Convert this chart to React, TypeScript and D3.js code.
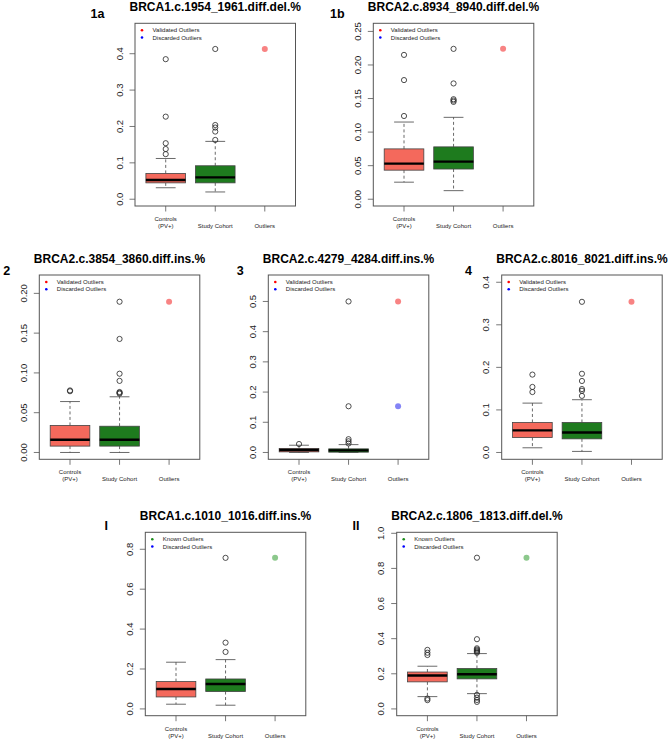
import React from 'react';
import * as d3 from 'd3';

// ---- data ----
const panelIds = ['1a', '1b', '2', '3', '4', 'I', 'II'];
const panelTitles = [
  'BRCA1.c.1954_1961.diff.del.%',
  'BRCA2.c.8934_8940.diff.del.%',
  'BRCA2.c.3854_3860.diff.ins.%',
  'BRCA2.c.4279_4284.diff.ins.%',
  'BRCA2.c.8016_8021.diff.ins.%',
  'BRCA1.c.1010_1016.diff.ins.%',
  'BRCA2.c.1806_1813.diff.del.%',
];
const categories = ['Controls\n(PV+)', 'Study Cohort', 'Outliers'];
const legendFirst = [
  'Validated Outliers', 'Validated Outliers', 'Validated Outliers', 'Validated Outliers',
  'Validated Outliers', 'Known Outliers', 'Known Outliers',
];
const legendSecond = 'Discarded Outliers';

// upper y limit (lower is 0), before R's 4% extension
const yMax = [0.465, 0.252, 0.2145, 0.565, 0.401, 0.851, 0.967];
const yTicks = [
  [0, 0.1, 0.2, 0.3, 0.4],
  [0, 0.05, 0.1, 0.15, 0.2, 0.25],
  [0, 0.05, 0.1, 0.15, 0.2],
  [0, 0.1, 0.2, 0.3, 0.4, 0.5],
  [0, 0.1, 0.2, 0.3, 0.4],
  [0, 0.2, 0.4, 0.6, 0.8],
  [0, 0.2, 0.4, 0.6, 0.8, 1.0],
];
const yTickFormat = ['.1f', '.2f', '.2f', '.1f', '.1f', '.1f', '.1f'];

// [lower whisker, Q1, median, Q3, upper whisker]
const controlsStats = [
  [0.0316, 0.045, 0.053, 0.071, 0.112],
  [0.0254, 0.0433, 0.053, 0.075, 0.115],
  [0.0, 0.008, 0.016, 0.034, 0.064],
  [0.0, 0.002, 0.008, 0.013, 0.024],
  [0.011, 0.035, 0.052, 0.0705, 0.116],
  [0.0235, 0.06, 0.1, 0.137, 0.234],
  [0.07, 0.154, 0.19, 0.21, 0.243],
];
const studyStats = [
  [0.02, 0.045, 0.06, 0.092, 0.159],
  [0.0128, 0.045, 0.056, 0.078, 0.122],
  [0.0, 0.008, 0.016, 0.033, 0.07],
  [0.0, 0.001, 0.007, 0.012, 0.026],
  [0.0025, 0.032, 0.047, 0.0705, 0.124],
  [0.0185, 0.087, 0.125, 0.15, 0.247],
  [0.087, 0.171, 0.197, 0.23, 0.315],
];
const controlsOutliers = [
  [0.124, 0.138, 0.154, 0.227, 0.385],
  [0.124, 0.1775, 0.215],
  [0.077, 0.078],
  [0.028],
  [0.142, 0.154, 0.183],
  [],
  [0.05, 0.059, 0.307, 0.32, 0.336],
];
const studyOutliers = [
  [0.163, 0.186, 0.197, 0.204, 0.413],
  [0.145, 0.147, 0.149, 0.1725, 0.224],
  [0.074, 0.075, 0.076, 0.09, 0.099, 0.1427, 0.1895],
  [0.03, 0.037, 0.044, 0.153, 0.5],
  [0.133, 0.145, 0.149, 0.168, 0.185, 0.354],
  [0.2855, 0.332, 0.757],
  [0.04, 0.051, 0.064, 0.08, 0.32, 0.326, 0.332, 0.338, 0.345, 0.397, 0.861],
];
const keptOutliers = [[0.413], [0.224], [0.1895], [0.5], [0.354], [0.757], [0.861]];
const discardedOutliers = [[], [], [], [0.153], [], [], []];

// ---- layout ----
const rows = [
  { top: 23.3, bottom: 206 },
  { top: 275, bottom: 459.3 },
  { top: 532.3, bottom: 715.7 },
];
const panelLayout = [
  { row: 0, left: 135, labelX: 90.5 },
  { row: 0, left: 373.3, labelX: 330 },
  { row: 1, left: 39.3, labelX: 3.3 },
  { row: 1, left: 268.3, labelX: 236.7 },
  { row: 1, left: 501.7, labelX: 465 },
  { row: 2, left: 145.3, labelX: 104.5 },
  { row: 2, left: 396.7, labelX: 352.5 },
];
const plotWidth = 160.5;
const labelBaseline = [18.3, 275, 530];

const font = '"Liberation Sans", Arial, Helvetica, sans-serif';
const colors = {
  controls: '#f4695c',
  study: '#1e7b1e',
  kept: ['#f88383', '#8cc88c'],
  discarded: '#8484f6',
  legendKept: ['#ff0000', '#1c8c1c'],
  legendDiscarded: '#0000ff',
  line: '#444',
  frame: '#555',
};

function Panel({ i }: { i: number }) {
  const lay = panelLayout[i];
  const row = rows[lay.row];
  const left = lay.left;
  const right = left + plotWidth;
  const known = i >= 5 ? 1 : 0;

  const x = d3.scaleLinear().domain([0.38, 3.62]).range([left, right]);
  const y = d3.scaleLinear()
    .domain([-0.04 * yMax[i], 1.04 * yMax[i]])
    .range([row.bottom, row.top]);
  const fmt = d3.format(yTickFormat[i]);
  const boxHalf = (x(1.4) - x(1)) ;
  const capHalf = boxHalf / 2;

  const drawBox = (stats: number[], outliers: number[], cx: number, fill: string, key: string) => {
    const [lo, q1, med, q3, hi] = stats;
    const px = x(cx);
    return (
      <g key={key}>
        <line x1={px} x2={px} y1={y(q3)} y2={y(hi)} stroke={colors.line} strokeWidth={0.8} strokeDasharray="3,2.5" />
        <line x1={px} x2={px} y1={y(q1)} y2={y(lo)} stroke={colors.line} strokeWidth={0.8} strokeDasharray="3,2.5" />
        <line x1={px - capHalf} x2={px + capHalf} y1={y(hi)} y2={y(hi)} stroke={colors.line} strokeWidth={0.8} />
        <line x1={px - capHalf} x2={px + capHalf} y1={y(lo)} y2={y(lo)} stroke={colors.line} strokeWidth={0.8} />
        <rect x={px - boxHalf} width={boxHalf * 2} y={y(q3)} height={Math.max(y(q1) - y(q3), 0.5)}
          fill={fill} stroke={colors.line} strokeWidth={0.8} />
        <line x1={px - boxHalf} x2={px + boxHalf} y1={y(med)} y2={y(med)} stroke="#000" strokeWidth={2.4} />
        {outliers.map((v, j) => (
          <circle key={j} cx={px} cy={y(v)} r={2.6} fill="none" stroke="#222" strokeWidth={0.8} />
        ))}
      </g>
    );
  };

  return (
    <g fontFamily={font}>
      {/* panel letter and title */}
      <text x={lay.labelX} y={labelBaseline[lay.row]} fontSize={12.5} fontWeight="bold">{panelIds[i]}</text>
      <text x={(left + right) / 2} y={row.top - 12.5} fontSize={12} fontWeight="bold" textAnchor="middle">
        {panelTitles[i]}
      </text>

      {/* y axis */}
      {yTicks[i].map(t => (
        <g key={t}>
          <line x1={left - 5.5} x2={left} y1={y(t)} y2={y(t)} stroke={colors.frame} strokeWidth={0.8} />
          <text transform={`translate(${left - 12.5},${y(t)}) rotate(-90)`} fontSize={9.5}
            textAnchor="middle" fill="#222">{fmt(t)}</text>
        </g>
      ))}

      {/* x axis */}
      {categories.map((c, j) => {
        const lines = c.split('\n');
        return (
          <g key={c}>
            <line x1={x(j + 1)} x2={x(j + 1)} y1={row.bottom} y2={row.bottom + 5.5} stroke={colors.frame} strokeWidth={0.8} />
            {lines.map((l, k) => (
              <text key={l} x={x(j + 1)} y={row.bottom + 22 - (lines.length - 1 - k) * 7}
                fontSize={6} textAnchor="middle" fill="#222">{l}</text>
            ))}
          </g>
        );
      })}

      {drawBox(controlsStats[i], controlsOutliers[i], 1, colors.controls, 'c')}
      {drawBox(studyStats[i], studyOutliers[i], 2, colors.study, 's')}

      {keptOutliers[i].map((v, j) => (
        <circle key={`k${j}`} cx={x(3)} cy={y(v)} r={3} fill={colors.kept[known]} />
      ))}
      {discardedOutliers[i].map((v, j) => (
        <circle key={`d${j}`} cx={x(3)} cy={y(v)} r={3} fill={colors.discarded} />
      ))}

      {/* legend */}
      <circle cx={left + 7} cy={row.top + 7} r={1.3} fill={colors.legendKept[known]} />
      <text x={left + 17.5} y={row.top + 9} fontSize={6} fill="#222">{legendFirst[i]}</text>
      <circle cx={left + 7} cy={row.top + 14.2} r={1.3} fill={colors.legendDiscarded} />
      <text x={left + 17.5} y={row.top + 16.2} fontSize={6} fill="#222">{legendSecond}</text>

      <rect x={left} y={row.top} width={plotWidth} height={row.bottom - row.top}
        fill="none" stroke={colors.frame} strokeWidth={1} />
    </g>
  );
}

export default function App() {
  return (
    <svg width={669} height={741} style={{ position: 'absolute', left: 0, top: 0, background: '#fff' }}>
      <rect width={669} height={741} fill="#fff" />
      {panelIds.map((id, i) => <Panel key={id} i={i} />)}
    </svg>
  );
}
